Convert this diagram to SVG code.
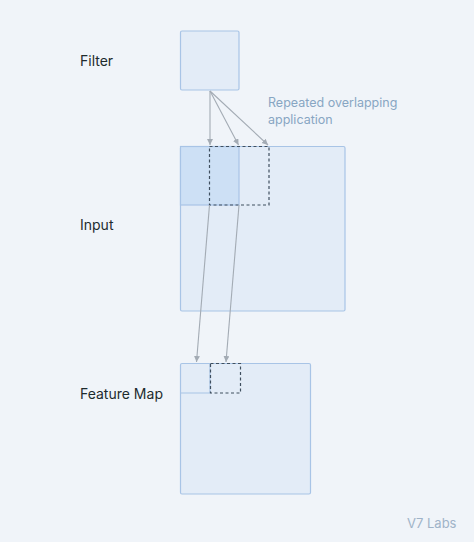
<svg xmlns="http://www.w3.org/2000/svg" width="474" height="542" viewBox="0 0 474 542">
<style>
.box{fill:#e3ecf7;stroke:#a8c4e6;stroke-width:1.2}
.hl{fill:#cde0f5;stroke:#a8c4e6;stroke-width:1.2}
.dash{fill:none;stroke:#3f4f5f;stroke-width:1.2;stroke-dasharray:3 2.5}
.lbl{font-family:Inter,"Liberation Sans",sans-serif;font-size:14px;fill:#1d2b2e}
.note{font-family:Inter,"Liberation Sans",sans-serif;font-size:12.5px;fill:#88a6c3}
.conn{stroke:#a3abb4;stroke-width:1.1;fill:none;marker-end:url(#ah)}
</style>
<defs>
<marker id="ah" markerWidth="8" markerHeight="8" refX="6" refY="3" orient="auto" markerUnits="userSpaceOnUse">
<path d="M0,0 L6,3 L0,6 Z" fill="#a3abb4"/>
</marker>
</defs>
<rect width="474" height="542" fill="#f0f4f9"/>
<g id="filter">
<rect class="box" x="180.5" y="31" width="58.5" height="59" rx="1.5"/>
<text class="lbl" x="80" y="66">Filter</text>
</g>
<g id="input">
<rect class="box" x="180.5" y="146.5" width="164.5" height="164.5" rx="1.5"/>
<rect class="hl" x="180.5" y="146.5" width="58.5" height="58.5"/>
<rect class="dash" x="209.5" y="146.5" width="59.5" height="58.5"/>
<text class="lbl" x="80" y="230">Input</text>
</g>
<g id="feature-map">
<rect class="box" x="180.5" y="363.5" width="130" height="130.5" rx="1.5"/>
<path d="M180.5,393 H210 V363.5" fill="none" stroke="#a8c4e6" stroke-width="1.2"/>
<rect class="dash" x="210.5" y="363.5" width="30" height="29.5"/>
<text class="lbl" x="80" y="399">Feature Map</text>
</g>
<g id="note">
<text class="note" x="268" y="107">Repeated overlapping</text>
<text class="note" x="268" y="124">application</text>
</g>
<g id="connectors">
<line class="conn" x1="210" y1="91" x2="210" y2="145"/>
<line class="conn" x1="210" y1="91" x2="238.5" y2="145"/>
<line class="conn" x1="210" y1="91" x2="268" y2="145"/>
<line class="conn" x1="209.5" y1="205" x2="196.5" y2="362"/>
<line class="conn" x1="239" y1="205" x2="226" y2="362"/>
</g>
<text x="407" y="528" style="font-family:Inter,'Liberation Sans',sans-serif;font-size:13px;fill:#9fb3c8">V7 Labs</text>
</svg>
